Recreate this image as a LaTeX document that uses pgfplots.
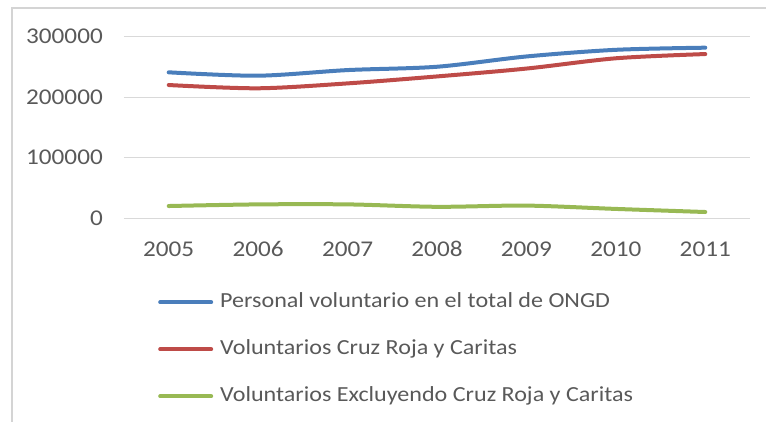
\documentclass[border=0pt]{standalone}
\usepackage{pgfplots}
\pgfplotsset{compat=1.18}
\usepackage{fontspec}
\setmainfont{Carlito}[FakeStretch=1.12]
\definecolor{txtgray}{HTML}{595959}
\definecolor{gridgray}{HTML}{D9D9D9}
\definecolor{frame}{HTML}{D4D4D4}
\definecolor{sblue}{HTML}{4A7EBB}
\definecolor{sred}{HTML}{BE4B48}
\definecolor{sgreen}{HTML}{98B954}
\begin{document}
\begin{tikzpicture}
\path[use as bounding box] (0pt,0pt) rectangle (766pt,421pt);
\draw[frame, line width=2pt] (12pt,-2pt) -- (12pt,413pt) -- (768pt,413pt);
\begin{axis}[
  at={(124pt,203pt)}, anchor=south west,
  scale only axis, width=626pt, height=181.5pt,
  xmin=-0.5, xmax=6.5, ymin=0, ymax=300000,
  xtick={0,...,6},
  xticklabels={2005,2006,2007,2008,2009,2010,2011},
  ytick={0,100000,200000,300000},
  scaled y ticks=false,
  /pgf/number format/.cd, fixed, set thousands separator={}, assume math mode=true,
  /pgfplots/.cd,
  ymajorgrids, grid style={gridgray, line width=1pt},
  axis line style={draw=none},
  major tick length=0pt,
  tick label style={font=\fontsize{22.5}{27}\selectfont, text=txtgray, inner sep=0pt},
  yticklabel style={anchor=east, xshift=-21pt},
  xticklabel style={anchor=base, yshift=-38pt},
  legend style={at={(0.0543,-0.408)}, anchor=north west, draw=none, fill=none, inner sep=0pt,
    row sep=27pt, font=\fontsize{21.5}{26}\selectfont, text=txtgray,
    nodes={inner sep=0pt, text height=15pt, text depth=5pt},
    /tikz/every odd column/.append style={column sep=7pt}},
  legend cell align=left,
  legend image code/.code={\draw[#1, line width=4pt, line cap=round] (2pt,0pt) -- (53pt,0pt);},
  every axis plot/.append style={line width=4pt, smooth, tension=0.5, line cap=round},
]
\addplot[sblue] coordinates {(0,240800) (1,235200) (2,244500) (3,250000) (4,267000) (5,278000) (6,281500)};
\addlegendentry{Personal voluntario en el total de ONGD}
\addplot[sred] coordinates {(0,219800) (1,214400) (2,222500) (3,234000) (4,247000) (5,264000) (6,271000)};
\addlegendentry{Voluntarios Cruz Roja y Caritas}
\addplot[sgreen] coordinates {(0,19800) (1,22500) (2,22500) (3,18500) (4,20500) (5,15000) (6,9900)};
\addlegendentry{Voluntarios Excluyendo Cruz Roja y Caritas}
\end{axis}
\end{tikzpicture}
\end{document}
